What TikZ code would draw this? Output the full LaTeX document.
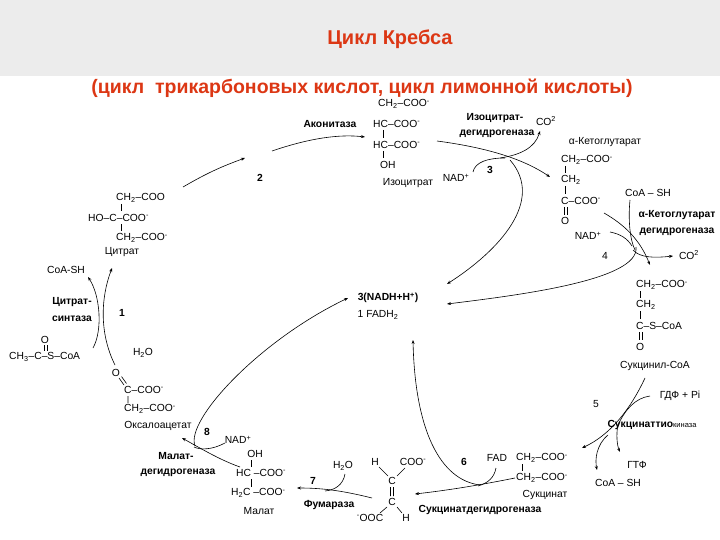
\documentclass[tikz,border=0pt]{standalone}
\usepackage{fontspec}
\setmainfont{Liberation Sans}
\usetikzlibrary{arrows.meta}
\newcommand{\sm}{\textsuperscript{-}}
\newcommand{\sbt}{\textsubscript{2}}
\begin{document}
\begin{tikzpicture}[x=1pt,y=-1pt,
  t/.style={inner sep=0pt,font=\fontsize{10.3}{11}\selectfont},
  tb/.style={t,font=\fontsize{10.3}{11}\selectfont\bfseries},
  ar/.style={-{Stealth[length=4pt,width=3pt]},line width=0.6pt},
  ln/.style={line width=0.6pt}]
\useasboundingbox (0,0) rectangle (720,540);
\fill[gray!15] (0,0) rectangle (720,76);
\definecolor{tred}{RGB}{220,55,20}
\node[font=\fontsize{20}{21}\selectfont\bfseries,text=tred] (title) at (390,39) {Цикл Кребса};
\node[font=\fontsize{19.5}{20}\selectfont\bfseries,text=tred] (sub) at (362,88) {(цикл\ \ трикарбоновых кислот, цикл лимонной кислоты)};
% isocitrate
\node[t,anchor=west] (i1) at (378,104) {CH\sbt–COO\sm};
\node[t,anchor=west] (i2) at (373,124) {HC–COO\sm};
\node[t,anchor=west] (i3) at (373,145) {HC–COO\sm};
\node[t,anchor=west] (i4) at (380,165) {OH};
\node[t] (iso) at (408,183) {Изоцитрат};
\draw[ln] (383,130)--(383,138) (383,151)--(383,158);
\node[tb] (acon) at (330,124) {Аконитаза};
% citrate
\node[t,anchor=west] (c1) at (116,198) {CH\sbt–COO};
\node[t,anchor=west] (c2) at (88,218) {HO–C–COO\sm};
\node[t,anchor=west] (c3) at (116,238) {CH\sbt–COO\sm};
\node[t] (cit) at (122,252) {Цитрат};
\draw[ln] (121,204)--(121,211) (121,224)--(121,231);
\node[t] (coa1) at (66,270) {CoA-SH};
\node[tb] (cs1) at (72,302) {Цитрат-};
\node[tb] (cs2) at (72,319) {синтаза};
\node[tb] (n1) at (122,313) {1};
\node[tb] (n2) at (260,178) {2};
% acetyl CoA
\node[t] (aO) at (45,340) {O};
\node[t,anchor=west] (acoa) at (9,357) {CH\textsubscript{3}–C–S–CoA};
\draw[ln] (44,345)--(44,351) (47,345)--(47,351);
\node[t] (h2o1) at (143,353) {H\sbt O};
% oxaloacetate
\node[t] (oO) at (116,373) {O};
\node[t,anchor=west] (o1) at (124,390) {C–COO\sm};
\node[t,anchor=west] (o2) at (124,409) {CH\sbt–COO\sm};
\node[t] (oxa) at (158,426) {Оксалоацетат};
\draw[ln] (119,378)--(124,385) (121.5,376.5)--(126.5,383.5) (128,396)--(128,403);
% malate
\node[tb] (n8) at (207,432) {8};
\node[t] (nad8) at (238,440) {NAD\textsuperscript{+}};
\node[t] (mOH) at (255,454) {OH};
\node[tb] (md1) at (176,456) {Малат-};
\node[tb] (md2) at (178,473) {дегидрогеназа};
\node[t,anchor=west] (m1) at (236,473) {HC\ –COO\sm};
\node[t,anchor=west] (m2) at (231,493) {H\sbt C\ –COO\sm};
\node[t] (mal) at (259,511) {Малат};
\draw[ln] (251,460)--(251,467) (251,479)--(251,487);
% fumarate
\node[t] (h2o7) at (343,466) {H\sbt O};
\node[tb] (n7) at (313,481) {7};
\node[tb] (fum) at (329,505) {Фумараза};
\node[t] (fH1) at (375,462) {H};
\node[t] (fC1) at (413,462) {COO\sm};
\node[t] (fCa) at (392,481) {C};
\node[t] (fCb) at (392,502) {C};
\node[t] (fO) at (370,518) {\sm OOC};
\node[t] (fH2) at (406,518) {H};
\draw[ln] (379,467)--(388,476) (397,476)--(405,468) (390.5,487)--(390.5,496) (393.5,487)--(393.5,496) (387,507)--(380,513) (397,507)--(402,513);
% succinate
\node[tb] (n6) at (464,462) {6};
\node[t] (fad) at (497,458) {FAD};
\node[t,anchor=west] (s1) at (516,458) {CH\sbt–COO\sm};
\node[t,anchor=west] (s2) at (516,478) {CH\sbt–COO\sm};
\node[t] (suc) at (545,495) {Сукцинат};
\node[tb] (sdh) at (480,510) {Сукцинатдегидрогеназа};
\draw[ln] (522,464)--(522,471);
% succinyl CoA
\node[t,anchor=west] (y1) at (636,285) {CH\sbt–COO\sm};
\node[t,anchor=west] (y2) at (636,305) {CH\sbt};
\node[t,anchor=west] (y3) at (636,326) {C–S–CoA};
\node[t] (yO) at (640,347) {O};
\node[t] (scoa) at (655,366) {Сукцинил-CoA};
\draw[ln] (640.5,291)--(640.5,298) (640.5,311)--(640.5,319) (639,332)--(639,340) (642,332)--(642,340);
\node[t] (gdp) at (680,396) {ГДФ + Pi};
\node[t] (n5) at (596,404) {5};
\node[tb] (stk) at (652,425) {Сукцинаттио\textmd{\fontsize{7.5}{8}\selectfont киназа}};
\node[t] (gtp) at (637,465) {ГТФ};
\node[t] (coa5) at (618,483) {CoA – SH};
% alpha-KG
\node[t] (akg) at (605,142) {α-Кетоглутарат};
\node[t,anchor=west] (k1) at (561,160) {CH\sbt–COO\sm};
\node[t,anchor=west] (k2) at (561,180) {CH\sbt};
\node[t,anchor=west] (k3) at (561,201) {C–COO\sm};
\node[t] (kO) at (565,221) {O};
\draw[ln] (565.5,166)--(565.5,173) (565.5,186)--(565.5,194) (564,207)--(564,215) (567,207)--(567,215);
\node[t] (coa4) at (648,193) {CoA – SH};
\node[tb] (kd1) at (677,215) {α-Кетоглутарат};
\node[tb] (kd2) at (677,232) {дегидрогеназа};
\node[t] (nad4) at (588,236) {NAD\textsuperscript{+}};
\node[t] (n4) at (605,256) {4};
\node[t] (co24) at (689,255) {CO\textsuperscript{2}};
% isocitrate dehydrogenase
\node[tb] (id1) at (495,118) {Изоцитрат-};
\node[tb] (id2) at (497,134) {дегидрогеназа};
\node[t] (co23) at (546,121) {CO\textsuperscript{2}};
\node[t] (nad3) at (456,178) {NAD\textsuperscript{+}};
\node[tb] (n3) at (490,170) {3};
% centre
\node[tb] (nadh) at (388,298) {3(NADH+H\textsuperscript{+})};
\node[t] (fadh) at (378,315) {1 FADH\sbt};
\coordinate (cNADH) at (447,284);
\coordinate (cNADH2) at (447,304);
\coordinate (cFADH) at (413,340);
\coordinate (cNAD8) at (348,298);
% arrows
\draw[ar] (183,187) to[bend left=5] (245,158);
\draw[ar] (272,151) .. controls (310,138) and (340,134) .. (365,137);
\draw[ar] (437,141) .. controls (490,148) and (525,160) .. (550,177);
\draw[ar] (500,158) .. controls (520,155) and (535,148) .. (540,131);
\draw[ln] (473,172) .. controls (475,162) and (488,158) .. (505,158);
\draw[ar] (510,160) .. controls (545,200) and (500,250) .. (cNADH);
\draw[ar] (604,213) .. controls (625,225) and (640,240) .. (650,265);
\draw[ln] (630,200) .. controls (628,220) and (630,240) .. (635,250);
\draw[ln] (610,232) .. controls (620,234) and (627,238) .. (632,246);
\draw[ar] (633,250) .. controls (640,258) and (655,258) .. (673,256);
\draw[ar] (636,247) .. controls (640,280) and (520,295) .. (cNADH2);
\draw[ar] (645,378) .. controls (630,410) and (610,435) .. (582,448);
\draw[ln] (650,396) .. controls (635,398) and (625,410) .. (618,425);
\draw[ar] (608,435) .. controls (596,445) and (595,460) .. (597,470);
\draw[ar] (618,424) .. controls (616,435) and (617,445) .. (620,452);
\draw[ar] (515,478) .. controls (480,485) and (450,490) .. (415,494);
\draw[ar] (480,485) .. controls (440,480) and (415,430) .. (cFADH);
\draw[ln] (496,468) .. controls (494,478) and (488,483) .. (478,486);
\draw[ar] (372,498) .. controls (340,490) and (320,488) .. (297,488);
\draw[ln] (345,474) .. controls (343,485) and (335,490) .. (325,491);
\draw[ar] (240,467) .. controls (220,460) and (200,448) .. (182,438);
\draw[ar] (195,446) .. controls (185,420) and (260,340) .. (cNAD8);
\draw[ln] (225,443) .. controls (212,450) and (200,450) .. (194,447);
\draw[ar] (93,348) .. controls (103,330) and (100,295) .. (88,277);
\draw[ar] (115,365) .. controls (100,335) and (100,300) .. (112,268);
\end{tikzpicture}
\end{document}
